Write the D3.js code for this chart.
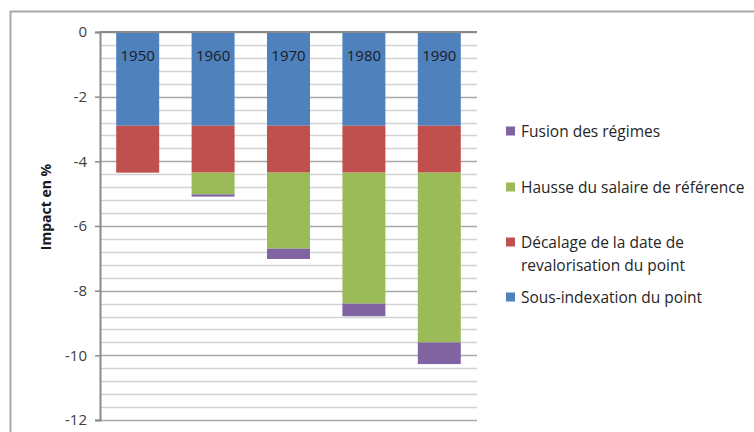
<!DOCTYPE html>
<html>
<head>
<meta charset="utf-8">
<script src="https://cdn.jsdelivr.net/npm/d3@7"></script>
<style>
  body { margin: 0; background: #fff; }
  svg { font-family: "Open Sans", sans-serif; }
</style>
</head>
<body>
<div id="chart"></div>
<script>
const years = ["1950", "1960", "1970", "1980", "1990"]
const sousIndexation = [-2.9, -2.9, -2.9, -2.9, -2.9]
const decalage = [-1.45, -1.45, -1.45, -1.45, -1.45]
const hausse = [0, -0.67, -2.35, -4.05, -5.25]
const fusion = [0, -0.07, -0.32, -0.39, -0.67]
const yTicks = [0, -2, -4, -6, -8, -10, -12]

const series = [
  {key: "sous", label: ["Sous-indexation du point"], color: "#4F81BD", values: sousIndexation},
  {key: "decalage", label: ["Décalage de la date de", "revalorisation du point"], color: "#C0504D", values: decalage},
  {key: "hausse", label: ["Hausse du salaire de référence"], color: "#9BBB59", values: hausse},
  {key: "fusion", label: ["Fusion des régimes"], color: "#8064A2", values: fusion}
]

const width = 754
const height = 432
const margin = {top: 32, right: 277, bottom: 12, left: 100}

const table = years.map((y, i) => {
  const row = {year: y}
  series.forEach(s => { row[s.key] = s.values[i] })
  return row
})

const stacked = d3.stack()
  .keys(series.map(s => s.key))
  .offset(d3.stackOffsetDiverging)(table)

const svg = d3.select("#chart").append("svg")
  .attr("width", width)
  .attr("height", height)

// chart frame
svg.append("rect")
  .attr("x", 10.5).attr("y", 11.5)
  .attr("width", width + 20).attr("height", height + 20)
  .attr("fill", "none")
  .attr("stroke", "#a8a8a8")
  .attr("stroke-width", 2)

const x = d3.scaleBand()
  .domain(years)
  .range([margin.left, width - margin.right])
  .paddingInner(0.43)
  .paddingOuter(0.215)

const y = d3.scaleLinear()
  .domain([-12, 0])
  .range([height - margin.bottom, margin.top])

// gridlines, minor every 0.4
const grid = d3.range(0, 31).map(i => -i * 0.4)
svg.append("g")
  .selectAll("line")
  .data(grid)
  .join("line")
  .attr("x1", margin.left)
  .attr("x2", width - margin.right)
  .attr("y1", d => Math.round(y(d)) + 0.5)
  .attr("y2", d => Math.round(y(d)) + 0.5)
  .attr("stroke", (d, i) => i % 5 === 0 ? "#a9a9a9" : "#d3d3d3")
  .attr("stroke-width", 1.5)

// bars
svg.append("g")
  .selectAll("g")
  .data(stacked)
  .join("g")
  .attr("fill", (d, i) => series[i].color)
  .selectAll("rect")
  .data(d => d)
  .join("rect")
  .attr("x", d => x(d.data.year))
  .attr("width", x.bandwidth())
  .attr("y", d => y(Math.max(d[0], d[1])))
  .attr("height", d => Math.abs(y(d[0]) - y(d[1])))

// year labels inside bars
svg.append("g")
  .selectAll("text")
  .data(years)
  .join("text")
  .attr("x", d => x(d) + x.bandwidth() / 2)
  .attr("y", 61)
  .attr("text-anchor", "middle")
  .attr("font-size", 15)
  .attr("fill", "#1b1b24")
  .text(d => d)

// y axis
const yAxis = g => g
  .attr("transform", `translate(${margin.left},0)`)
  .call(d3.axisLeft(y).tickValues(yTicks).tickSize(5).tickPadding(8).tickFormat(d => String(d)))
  .call(g => g.select(".domain").attr("stroke", "#8a8a8a").attr("stroke-width", 2))
  .call(g => g.selectAll(".tick line").attr("stroke", "#8a8a8a").attr("stroke-width", 1.5))
  .call(g => g.selectAll(".tick text").attr("fill", "#404040").attr("font-size", 15))

svg.append("g").call(yAxis).attr("font-family", null)

// category axis line at 0
svg.append("line")
  .attr("x1", margin.left).attr("x2", width - margin.right)
  .attr("y1", y(0)).attr("y2", y(0))
  .attr("stroke", "#8a8a8a").attr("stroke-width", 2)

svg.append("text")
  .attr("transform", `translate(51,207) rotate(-90)`)
  .attr("text-anchor", "middle")
  .attr("font-size", 14)
  .attr("font-weight", "bold")
  .attr("fill", "#1a1a1a")
  .text("Impact en %")

// legend
const legendY = {fusion: 131, hausse: 187, decalage: 242, sous: 297}
const legend = svg.append("g")
  .selectAll("g")
  .data(series)
  .join("g")
  .attr("transform", d => `translate(506,${legendY[d.key]})`)

legend.append("rect")
  .attr("x", 0).attr("y", -4.5)
  .attr("width", 9).attr("height", 9)
  .attr("fill", d => d.color)

legend.append("text")
  .attr("font-size", 15.5)
  .attr("fill", "#262626")
  .selectAll("tspan")
  .data(d => d.label)
  .join("tspan")
  .attr("x", 15)
  .attr("y", (d, i) => 5.5 + i * 23)
  .text(d => d)
</script>
</body>
</html>
